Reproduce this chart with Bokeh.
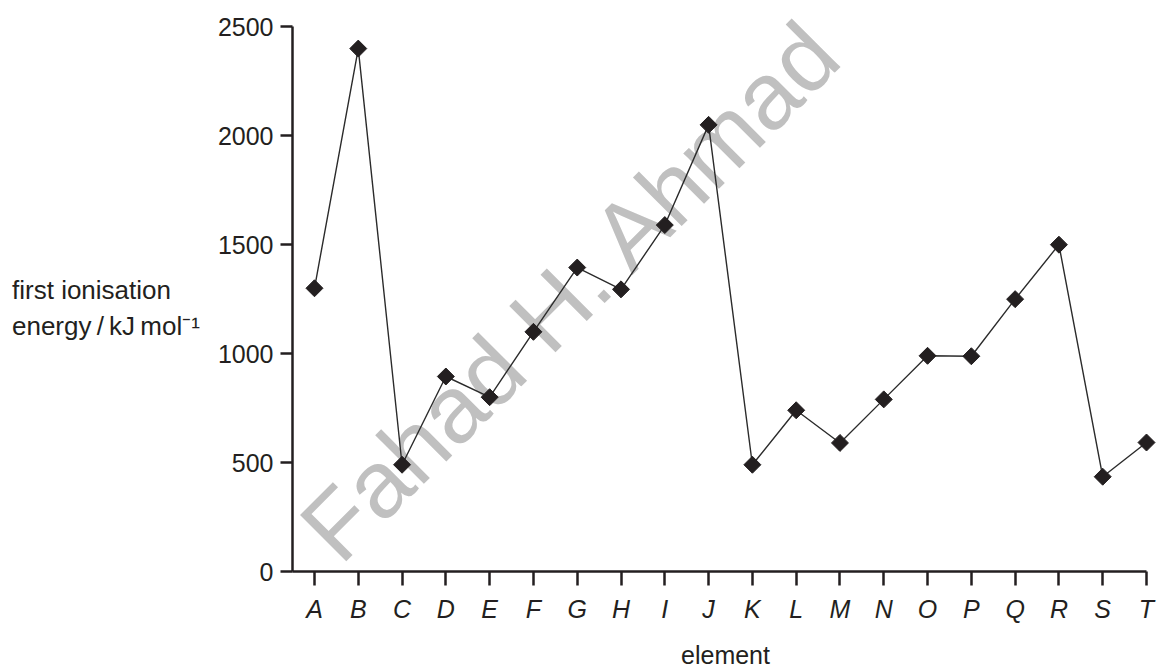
import math
from bokeh.plotting import figure
from bokeh.models import Range1d, FixedTicker, Label
from bokeh.embed import file_html
from bokeh.resources import INLINE

# ---- data ----
elements = ["A", "B", "C", "D", "E", "F", "G", "H", "I", "J",
            "K", "L", "M", "N", "O", "P", "Q", "R", "S", "T"]
ionisation_energy = [1300, 2400, 490, 895, 800, 1100, 1395, 1295, 1590, 2050,
                     490, 740, 590, 790, 990, 988, 1250, 1500, 435, 592]
y_ticks = [0, 500, 1000, 1500, 2000, 2500]

xs = list(range(len(elements)))

INK = "#231f20"
FONT = "Liberation Sans"

p = figure(width=1158, height=671, output_backend="svg", toolbar_location=None,
           x_range=Range1d(-0.502, len(elements) - 1 + 0.274),
           y_range=Range1d(0, 2584),
           min_border_left=292, min_border_right=0, min_border_top=8,
           min_border_bottom=0)
p.outline_line_color = None
p.xgrid.visible = False
p.ygrid.visible = False
p.background_fill_color = "white"
p.border_fill_color = "white"

# watermark (behind the data)
p.add_layout(Label(x=25, y=28, x_units="screen", y_units="screen",
                   text="Fahad H. Ahmad", angle=45, angle_units="deg",
                   text_font=FONT, text_font_size="95px", text_color="#c0c0c0",
                   text_align="left", text_baseline="alphabetic",
                   level="underlay"))

# data
p.line(xs, ionisation_energy, line_color="#2b2b2b", line_width=1.4)
p.scatter(xs, ionisation_energy, marker="square", size=12, angle=math.pi / 4,
          fill_color=INK, line_color=INK)

# x axis
xa = p.xaxis[0]
xa.ticker = FixedTicker(ticks=xs)
xa.major_label_overrides = {i: e for i, e in zip(xs, elements)}
xa.bounds = (-0.502, len(elements) - 1)
xa.axis_line_width = 2.5
xa.axis_line_color = INK
xa.major_tick_line_width = 2.5
xa.major_tick_line_color = INK
xa.major_tick_out = 14
xa.major_tick_in = 0
xa.minor_tick_line_color = None
xa.major_label_standoff = 9
xa.major_label_text_font = FONT
xa.major_label_text_font_size = "25px"
xa.major_label_text_font_style = "italic"
xa.major_label_text_color = INK
xa.axis_label = "element"
xa.axis_label_text_font = FONT
xa.axis_label_text_font_size = "25px"
xa.axis_label_text_font_style = "normal"
xa.axis_label_text_color = INK
xa.axis_label_standoff = 15

# y axis
ya = p.yaxis[0]
ya.ticker = FixedTicker(ticks=y_ticks)
ya.bounds = (y_ticks[0], y_ticks[-1])
ya.axis_line_width = 2.5
ya.axis_line_color = INK
ya.major_tick_line_width = 2.5
ya.major_tick_line_color = INK
ya.major_tick_out = 12
ya.major_tick_in = 0
ya.minor_tick_line_color = None
ya.major_label_standoff = 7
ya.major_label_text_font = FONT
ya.major_label_text_font_size = "25px"
ya.major_label_text_color = INK
# the label lines are right-aligned by Bokeh; pad the short first line,
# and a leading blank line lowers the block to the reference position
ya.axis_label = ("\u00a0\n"
                 "first ionisation\u00a0\u00a0\u00a0\u00a0\n"
                 "energy\u2009/\u2009kJ\u2009mol\u207b\u00b9")
ya.axis_label_text_font = FONT
ya.axis_label_text_font_size = "26px"
ya.axis_label_text_font_style = "normal"
ya.axis_label_text_color = INK
ya.axis_label_text_align = "left"
ya.axis_label_text_line_height = 1.2
ya.axis_label_standoff = 15
try:
    ya.axis_label_orientation = "horizontal"
except Exception:
    pass

open("out.html", "w").write(file_html(p, INLINE))
